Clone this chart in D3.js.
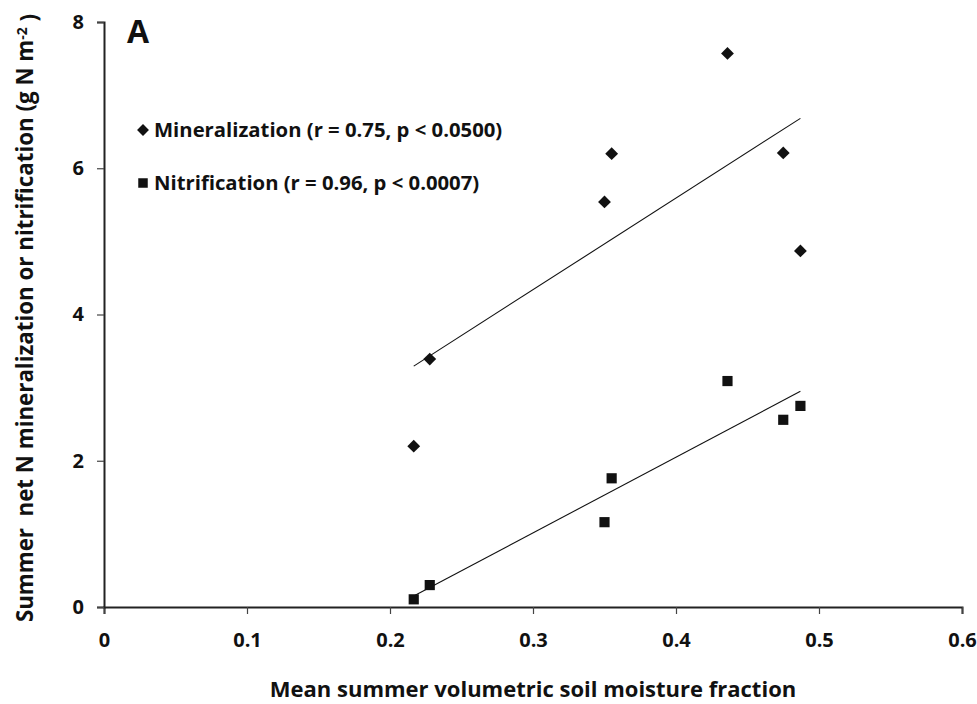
<!DOCTYPE html>
<html><head><meta charset="utf-8">
<script src="https://cdn.jsdelivr.net/npm/d3@7"></script>
<style>body{margin:0;background:#fff}svg{display:block}text{font-family:"Open Sans",Lato,sans-serif;font-weight:bold;fill:#111;white-space:pre}</style>
</head><body><svg id="c" width="977" height="704"></svg>
<script>
const moisture = [0.2166, 0.2278, 0.350, 0.355, 0.436, 0.475, 0.487];
const mineralization = [2.20, 3.39, 5.54, 6.20, 7.57, 6.21, 4.87];
const nitrification = [0.105, 0.30, 1.16, 1.76, 3.09, 2.56, 2.75];
const xTicks = [0, 0.1, 0.2, 0.3, 0.4, 0.5, 0.6];
const yTicks = [0, 2, 4, 6, 8];
const legendLabels = ["Mineralization (r = 0.75, p < 0.0500)", "Nitrification (r = 0.96, p < 0.0007)"];

const svg = d3.select("#c");
const m = {l:104, r:962, t:22, b:607};
const x = d3.scaleLinear().domain([0,0.6]).range([m.l,m.r]);
const y = d3.scaleLinear().domain([0,8]).range([m.b,m.t]);

const xa = svg.append("g").attr("transform",`translate(0,${m.b})`)
  .call(d3.axisBottom(x).tickValues(xTicks).tickSize(7).tickPadding(19).tickFormat(d=>d3.format("")(d)));
const ya = svg.append("g").attr("transform",`translate(${m.l},0)`)
  .call(d3.axisLeft(y).tickValues(yTicks).tickSize(7).tickPadding(13));
[xa,ya].forEach(a=>{
  a.select(".domain").attr("stroke","#222").attr("stroke-width",2);
  a.selectAll(".tick line").attr("stroke","#444").attr("stroke-width",1.2);
  a.selectAll("text").style("font-size","20px").attr("fill","#111");
});

function fit(xs, ys){
  const mx=d3.mean(xs), my=d3.mean(ys);
  const sxy=d3.sum(xs,(v,i)=>(v-mx)*(ys[i]-my)), sxx=d3.sum(xs,v=>(v-mx)*(v-mx));
  const b=sxy/sxx, a=my-b*mx;
  const [x0,x1]=d3.extent(xs);
  return [[x0,a+b*x0],[x1,a+b*x1]];
}
const line = d3.line().x(d=>x(d[0])).y(d=>y(d[1]));
[mineralization, nitrification].forEach(ys=>{
  svg.append("path").attr("d",line(fit(moisture,ys))).attr("stroke","#111").attr("stroke-width",1.1).attr("fill","none");
});

const diamond = d3.symbol().type(d3.symbolDiamond2).size(105);
const square = d3.symbol().type(d3.symbolSquare2).size(132);
svg.append("g").selectAll("path").data(moisture).join("path")
  .attr("d",diamond).attr("transform",(d,i)=>`translate(${x(d)},${y(mineralization[i])})`).attr("fill","#111");
svg.append("g").selectAll("path").data(moisture).join("path")
  .attr("d",square).attr("transform",(d,i)=>`translate(${x(d)},${y(nitrification[i])})`).attr("fill","#111");

// legend
const lg = svg.append("g");
const legDiamond = d3.symbol().type(d3.symbolDiamond2).size(90);
const legSquare = d3.symbol().type(d3.symbolSquare2).size(115);
[[legDiamond,130],[legSquare,183]].forEach(([sym,yy],i)=>{
  lg.append("path").attr("d",sym).attr("transform",`translate(143,${yy})`).attr("fill","#111");
  lg.append("text").attr("x",154).attr("y",yy).attr("dy","0.36em").style("font-size","20.3px").text(legendLabels[i]);
});

svg.append("text").attr("x",127).attr("y",43).style("font-size","32px").text("A");

svg.append("text").attr("x",533).attr("y",697).attr("text-anchor","middle").style("font-size","22px")
  .text("Mean summer volumetric soil moisture fraction");

const yt = svg.append("text").attr("transform","translate(33,318) rotate(-90)").attr("text-anchor","middle").style("font-size","22.3px");
yt.append("tspan").text("Summer  net N mineralization or nitrification (g N m");
yt.append("tspan").attr("dy","-0.45em").style("font-size","14px").text("-2");
yt.append("tspan").attr("dy","0.45em").text(" )");
</script></body></html>
